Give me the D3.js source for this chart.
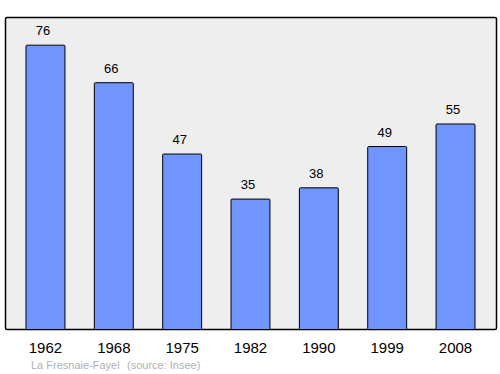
<!DOCTYPE html>
<html>
<head>
<meta charset="utf-8">
<script src="https://cdn.jsdelivr.net/npm/d3@7"></script>
<style>
  body { margin: 0; background: #fff; }
  text { font-family: "Liberation Sans", Arial, sans-serif; }
</style>
</head>
<body>
<svg width="500" height="374"></svg>
<script>
var years = ["1962", "1968", "1975", "1982", "1990", "1999", "2008"];
var population = [76, 66, 47, 35, 38, 49, 55];
var place = "La Fresnaie-Fayel";
var source = "(source: Insee)";

var svg = d3.select("svg");

var x = d3.scaleBand()
    .domain(years)
    .range([11.3, 489.7])
    .paddingInner(0.43)
    .paddingOuter(0.215);

var y = d3.scaleLinear()
    .domain([0, 83.5])
    .range([330.5, 17]);

// plot frame
svg.append("rect")
    .attr("x", 5.5)
    .attr("y", 17.5)
    .attr("width", 491)
    .attr("height", 312)
    .attr("rx", 1.5)
    .attr("fill", "#eeeeee")
    .attr("stroke", "#000")
    .attr("stroke-width", 1.5);

svg.append("g")
    .selectAll("rect")
    .data(population)
    .enter().append("rect")
    .attr("x", function(d, i) { return x(years[i]); })
    .attr("y", function(d) { return y(d); })
    .attr("width", x.bandwidth())
    .attr("height", function(d) { return 329.5 - y(d); })
    .attr("rx", 1)
    .attr("fill", "#7095ff")
    .attr("stroke", "#000")
    .attr("stroke-width", 1);

// value labels sit a little left of the bar centre
svg.append("g")
    .selectAll("text")
    .data(population)
    .enter().append("text")
    .attr("x", function(d, i) { return x(years[i]) + x.bandwidth() / 2 - 2.5; })
    .attr("y", function(d) { return y(d) - 10; })
    .attr("text-anchor", "middle")
    .attr("font-size", 13)
    .attr("fill", "#000")
    .text(function(d) { return d; });

svg.append("g")
    .selectAll("text")
    .data(years)
    .enter().append("text")
    .attr("x", function(d) { return x(d) + x.bandwidth() / 2; })
    .attr("y", 353)
    .attr("text-anchor", "middle")
    .attr("font-size", 15)
    .attr("fill", "#000")
    .text(function(d) { return d; });

svg.append("text")
    .attr("x", 31)
    .attr("y", 369)
    .attr("font-size", 11)
    .attr("fill", "#b0b0b0")
    .text(place);

svg.append("text")
    .attr("x", 127)
    .attr("y", 369)
    .attr("font-size", 11)
    .attr("fill", "#b0b0b0")
    .text(source);
</script>
</body>
</html>
